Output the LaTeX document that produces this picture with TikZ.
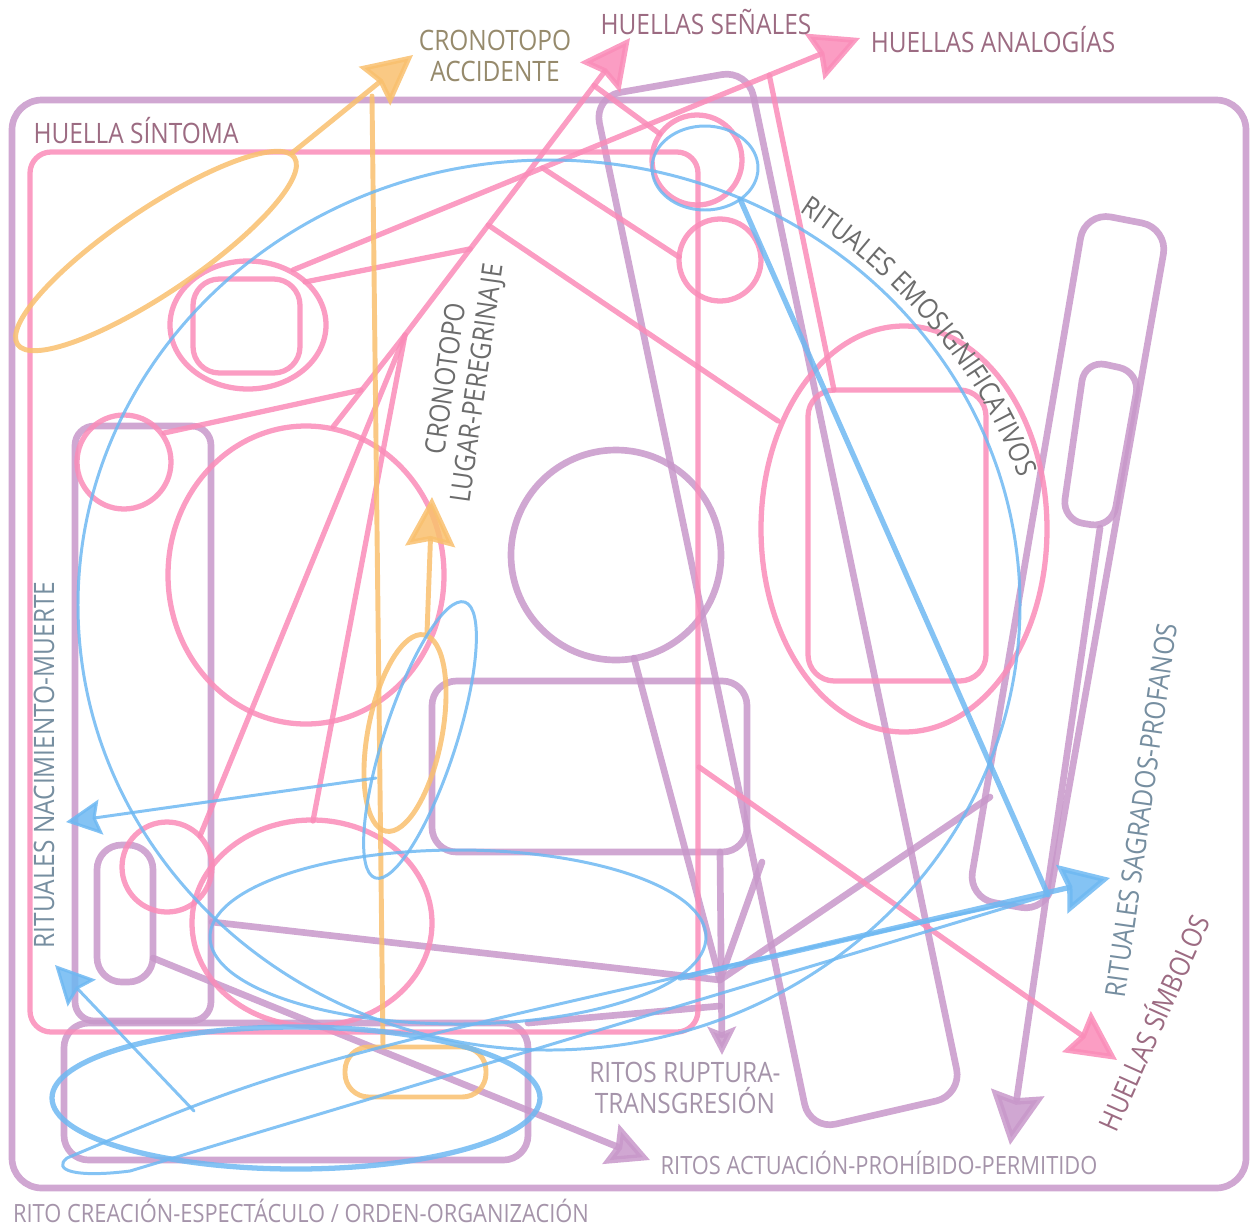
\documentclass[tikz,border=0pt]{standalone}
\usepackage{fontspec}
\setmainfont{Open Sans}
\newfontfamily\hand{Open Sans}[FakeStretch=0.87]
\usetikzlibrary{arrows.meta,calc,decorations.text}

\definecolor{lila}{RGB}{200,152,202}
\definecolor{rosa}{RGB}{250,140,184}
\definecolor{celeste}{RGB}{110,184,242}
\definecolor{naranja}{RGB}{249,192,110}
\definecolor{txthuella}{RGB}{156,107,130}
\definecolor{txtcrono}{RGB}{150,138,108}
\definecolor{txtgris}{RGB}{108,108,108}
\definecolor{txtritual}{RGB}{118,142,160}
\definecolor{txtrito}{RGB}{165,148,170}

\begin{document}
\begin{tikzpicture}[x=0.02cm, y=-0.02cm, line cap=round, line join=round,
  morado/.style={draw=lila, line width=3.8pt, opacity=.85},
  rosado/.style={draw=rosa, line width=3pt, opacity=.85},
  azul/.style={draw=celeste, line width=1.7pt, opacity=.85},
  azulg/.style={azul, line width=3pt},
  naranjo/.style={draw=naranja, line width=2.8pt, opacity=.85},
  flecha/.style={-{Stealth[length=#1, width=#1, inset=3pt]}},
  flecha/.default=28pt,
  rotulo/.style={font=\hand\fontsize{16}{18}\selectfont, inner sep=0pt, align=center},
  pie/.style={rotulo, font=\hand\fontsize{14.3}{17}\selectfont}
]
\useasboundingbox (0,0) rectangle (1251,1228);

% Puntas y cruces
\coordinate (cruce) at (720,980);
\coordinate (nodoA) at (405,335);
\coordinate (nodoS) at (1048,895);
\coordinate (origenAn) at (293,270);
\coordinate (pSenales) at (630,38);
\coordinate (pAnalogias) at (860,38);
\coordinate (pSimbolos) at (1117,1060);
\coordinate (pAccidente) at (413,55);
\coordinate (pPeregrinaje) at (432,497);
\coordinate (pRuptura) at (722,1055);
\coordinate (pActuacion) at (650,1160);
\coordinate (pPermitido) at (1010,1145);
\coordinate (pSagrados) at (1110,878);
\coordinate (pNacimiento) at (66,822);
\coordinate (pNacimiento2) at (55,965);

% Marco
\draw[morado, rounded corners=17pt] (12,100) rectangle (1246,1188);

% Formas lila
\draw[morado, rounded corners=14pt] (432,681) rectangle (747,852);
\draw[morado, rounded corners=14pt] (64,1023) rectangle (528,1160);
\draw[morado, rounded corners=11pt] (75,426) rectangle (211,1021);
\draw[morado, rounded corners=14pt] (97,845) rectangle (153,982);
\draw[morado, rounded corners=15pt] (594,97) -- (748,70) -- (962,1095) -- (810,1130) -- cycle;
\draw[morado, rounded corners=15pt] (1085,212) -- (1168,228) -- (1047,912) -- (968,898) -- cycle;
\draw[morado, rounded corners=12pt] (1085,360) -- (1140,372) -- (1112,528) -- (1062,520) -- cycle;
\draw[morado] (616,555) circle (105);

% Trazos lila
\draw[morado] (634,658) -- (cruce);
\draw[morado] (762,862) -- (cruce);
\draw[morado] (990,797) -- (cruce);
\draw[morado] (212,922) -- (cruce);
\draw[morado] (528,1023) -- (720,1006);
\draw[morado, flecha=16pt] (720,852) -- (pRuptura);
\draw[morado, flecha=24pt] (153,958) -- (pActuacion);
\draw[morado, flecha=30pt] (1100,528) -- (pPermitido);

% Formas rosadas
\draw[rosado, rounded corners=12pt] (30,152) rectangle (698,1032);
\draw[rosado, rounded corners=15pt] (193,279) rectangle (300,373);
\draw[rosado, rounded corners=15pt] (808,390) rectangle (986,681);
\foreach \cx/\cy/\r in {697/160/45, 720/260/41, 124/462/47, 167/867/45}
  \draw[rosado] (\cx,\cy) circle (\r);
\foreach \cx/\cy/\rx/\ry in {248/325/78/64, 306/575/138/149, 312/923/120/103, 904/529/143/203}
  \draw[rosado] (\cx,\cy) ellipse [x radius=\rx, y radius=\ry];

% Trazos rosados
\draw[rosado, flecha] (nodoA) -- (pSenales);
\draw[rosado, flecha] (origenAn) -- (pAnalogias);
\draw[rosado, flecha] (699,767) -- (pSimbolos);
\draw[rosado] (200,836) -- (nodoA);
\draw[rosado] (313,821) -- (nodoA);
\draw[rosado] (333,427) -- (nodoA);
\draw[rosado] (164,433) -- (361,390);
\draw[rosado] (305,282) -- ($(nodoA)!0.29!(pSenales)$);
\draw[rosado] ($(nodoA)!0.37!(pSenales)$) -- (778,421);
\draw[rosado] ($(nodoA)!0.84!(pSenales)$) -- (660,134);
\draw[rosado] ($(origenAn)!0.44!(pAnalogias)$) -- (679,257);
\draw[rosado] ($(origenAn)!0.84!(pAnalogias)$) -- (834,390);

% Formas naranjas
\draw[naranjo, rotate around={34:(156,251)}] (156,251) ellipse [x radius=167, y radius=42];
\draw[naranjo, rotate around={-11:(405,733)}] (405,733) ellipse [x radius=37, y radius=100];
\draw[naranjo, rounded corners=13.5pt] (345,1047) rectangle (486,1097);
\draw[naranjo, flecha] (292,153) -- (pAccidente);
\draw[naranjo] (383,1047) -- (372,96);
\draw[naranjo, flecha] (427,633) -- (pPeregrinaje);

% Formas celestes
\draw[azul] (549,605) ellipse [x radius=471, y radius=445];
\draw[azul] (705,168) ellipse [x radius=53, y radius=42];
\draw[azul, rotate around={-18:(420,740)}] (420,740) ellipse [x radius=36, y radius=145];
\draw[azulg] (296,1098) ellipse [x radius=244, y radius=71];
\draw[azul] (458,937) ellipse [x radius=248, y radius=87];
\draw[azul] (nodoS) .. controls (300,1060) .. (67,1158) .. controls (52,1170) and (75,1178) .. (130,1171) -- (nodoS);
\draw[azulg] (740,199) -- (nodoS);
\draw[azul, flecha=20pt] (376,778) -- (pNacimiento);
\draw[azul, flecha=22pt] (194,1111) -- (pNacimiento2);
\draw[azulg, flecha] (680,978) -- (pSagrados);

% Rotulos
\node[rotulo, text=txthuella] (sintoma) at (136,131) {HUELLA SÍNTOMA};
\node[rotulo, text=txtcrono] (accidente) at (495,56) {CRONOTOPO\\ACCIDENTE};
\node[rotulo, text=txthuella] (senales) at (706,22) {HUELLAS SEÑALES};
\node[rotulo, text=txthuella] (analogias) at (993,40) {HUELLAS ANALOGÍAS};
\node[rotulo, text=txtgris, rotate=82] (peregrinaje) at (463,381) {CRONOTOPO\\LUGAR-PEREGRINAJE};
\path[decorate, decoration={text along path, text align=center,
  text={|\hand\fontsize{16}{18}\selectfont\color{txtgris}|RITUALES EMOSIGNIFICATIVOS}}]
  (790,206) .. controls (895,272) and (985,372) .. (1022,488);
\node[rotulo, text=txtritual, rotate=90] (nacimiento) at (44,765) {RITUALES NACIMIENTO-MUERTE};
\node[rotulo, text=txtritual, rotate=82] (sagrados) at (1141,810) {RITUALES SAGRADOS-PROFANOS};
\node[rotulo, text=txthuella, rotate=66] (simbolos) at (1152,1022) {HUELLAS SÍMBOLOS};
\node[rotulo, text=txtrito] (ruptura) at (685,1088) {RITOS RUPTURA-\\TRANSGRESIÓN};
\node[pie, text=txtrito] (actuacion) at (879,1163) {RITOS ACTUACIÓN-PROHÍBIDO-PERMITIDO};
\node[pie, text=txtrito] (creacion) at (301,1211) {RITO CREACIÓN-ESPECTÁCULO / ORDEN-ORGANIZACIÓN};

\end{tikzpicture}
\end{document}
